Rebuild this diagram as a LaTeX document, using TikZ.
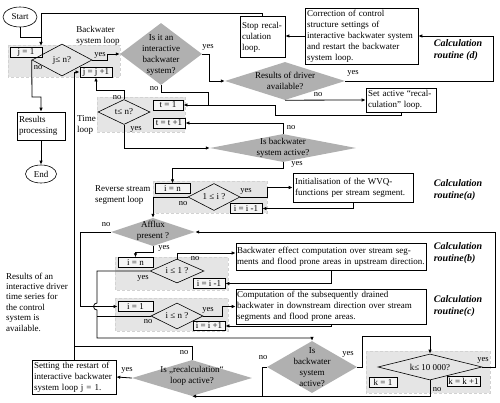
\documentclass[tikz,border=0pt]{standalone}
\usepackage{fontspec}
\setmainfont{Liberation Serif}
\usetikzlibrary{arrows.meta,shapes.geometric}

\tikzset{
  txt/.style={font=\fontsize{9}{11}\selectfont, inner sep=1pt},
  box/.style={txt, draw, line width=0.6pt, fill=white, align=left, inner sep=2pt},
  cnt/.style={txt, draw, line width=0.9pt, fill=gray!8, inner sep=0pt, minimum height=10pt},
  term/.style={txt, draw, ellipse, line width=0.6pt, fill=white, inner sep=0pt},
  test/.style={diamond, fill=gray!62, inner sep=0pt},
  looptest/.style={diamond, draw, line width=0.6pt, inner sep=0pt},
  band/.style={fill=gray!20, draw=gray!35, densely dashed, line width=0.4pt},
  lbl/.style={txt, align=left},
  yn/.style={font=\fontsize{8.5}{10}\selectfont, inner sep=0.5pt},
  calc/.style={font=\fontsize{10}{12.5}\selectfont\bfseries\itshape, align=left},
  line/.style={line width=0.8pt},
  flow/.style={line, -{Latex[length=4pt,width=3.5pt]}},
}

\begin{document}
\begin{tikzpicture}[x=1pt,y=-1pt]
\useasboundingbox (0,0) rectangle (500,403);

%loop bands
\path[band] (8,45) rectangle (120,77);
\path[band] (97,97) rectangle (185,132);
\path[band] (153,181) rectangle (267,213);
\path[band] (115,257) rectangle (228,290);
\path[band] (115,298) rectangle (228,331);
\path[band] (366,351) rectangle (490,393);

%start and end
\node[term, minimum width=34pt, minimum height=20pt] (start) at (20,17) {Start};
\node[term, minimum width=31pt, minimum height=18pt] (end) at (41,174) {End};

%backwater system loop
\node[cnt, minimum width=32pt] (jinit) at (26,52) {j = 1};
\node[looptest, minimum width=60pt, minimum height=32pt] (jdec) at (62,60) {};
\node[txt] (jdect) at (jdec) {j≤ n?};
\node[cnt, minimum width=32pt] (jinc) at (96,72) {j = j +1};
\node[lbl] (jlbl) at (98,36) {Backwater\\system loop};

%results
\node[box, text width=44pt, minimum height=28pt] (results) at (41,126) {Results\\processing};

%interactive system
\node[test, minimum width=82pt, minimum height=62pt] (dint) at (161,54) {};
\node[txt, align=center] (dintt) at (161,55) {Is it an\\interactive\\backwater\\system?};

%stop and correction
\node[box, text width=41pt, minimum height=41pt] (stop) at (262.5,37) {Stop recal-\\culation\\loop.};
\node[box, text width=109pt, minimum height=56pt] (corr) at (361.5,36) {Correction of control\\structure settings of\\interactive backwater system\\and restart the backwater\\system loop.};
\node[calc] (calcd) at (458,50) {Calculation\\routine (d)};

%driver
\node[test, minimum width=120pt, minimum height=38pt] (ddrv) at (285,81) {};
\node[txt, align=center] (ddrvt) at (ddrv) {Results of driver\\available?};
\node[box, text width=66pt, minimum height=24pt] (setrc) at (401,100) {Set active “recal-\\culation” loop.};

%time loop
\node[looptest, minimum width=52pt, minimum height=25pt] (tdec) at (124,112) {};
\node[txt] (tdect) at (tdec) {t≤ n?};
\node[cnt, minimum width=30pt] (tinit) at (168,105) {t = 1};
\node[cnt, minimum width=32pt] (tinc) at (169,123) {t = t +1};
\node[lbl, anchor=west] (tlbl) at (76,125) {Time\\loop};

%backwater active
\node[test, minimum width=146pt, minimum height=28pt] (dact1) at (283,148) {};
\node[txt, align=center] (dact1t) at (dact1) {Is backwater\\system active?};

%reverse stream segment loop
\node[cnt, minimum width=35pt, minimum height=9.5pt] (iinitr) at (172.5,188.5) {i = n};
\node[looptest, minimum width=52pt, minimum height=27pt] (idecr) at (214,197) {};
\node[txt] (idecrt) at (idecr) {1 ≤ i ?};
\node[cnt, minimum width=32pt, minimum height=9.5pt] (idecrr) at (246,208.5) {i = i -1};
\node[lbl, anchor=west] (ilbl) at (94,195) {Reverse stream\\segment loop};
\node[box, text width=116pt, minimum height=29pt] (init) at (353,187.5) {Initialisation of the WVQ-\\functions per stream segment.};
\node[calc] (calca) at (458,190) {Calculation\\routine(a)};

%afflux
\node[test, minimum width=84pt, minimum height=28pt] (dafl) at (153,232) {};
\node[txt, align=center] (daflt) at (153,231) {Afflux\\present ?};

%routine b
\node[cnt, minimum width=35pt, minimum height=9.5pt] (iinitb) at (135.5,262.5) {i = n};
\node[looptest, minimum width=54pt, minimum height=24pt] (idecb) at (177,271) {};
\node[txt] (idecbt) at (idecb) {i ≤ 1 ?};
\node[cnt, minimum width=32pt, minimum height=9.5pt] (idecbr) at (209,283.5) {i = i -1};
\node[box, text width=188pt, inner sep=1pt, minimum height=27pt] (bwe) at (331,256.5) {Backwater effect computation over stream seg-\\ments and flood prone areas in upstream direction.};
\node[calc] (calcb) at (458,253) {Calculation\\routine(b)};

%routine c
\node[cnt, minimum width=35pt, minimum height=9.5pt] (iinitc) at (135.5,306.5) {i = 1};
\node[looptest, minimum width=52pt, minimum height=26pt] (idecc) at (177,316) {};
\node[txt] (idecct) at (idecc) {i ≤ n ?};
\node[cnt, minimum width=32pt, minimum height=9.5pt] (iincc) at (209,326) {i = i +1};
\node[box, text width=188pt, inner sep=1pt, minimum height=35pt] (comp) at (331,306.5) {Computation of the subsequently drained\\backwater in downstream direction over stream\\segments and flood prone areas.};
\node[calc] (calcc) at (458,306) {Calculation\\routine(c)};

%note
\node[lbl, anchor=west, font=\fontsize{9}{10.4}\selectfont] (note) at (5,302) {Results of an\\interactive driver\\time series for\\the control\\system is\\available.};

%backwater active, k loop
\node[test, minimum width=90pt, minimum height=52pt] (dact2) at (312,367) {};
\node[txt, align=center] (dact2t) at (dact2) {Is\\backwater\\system\\active?};
\node[cnt, minimum width=28pt] (kinit) at (383,382) {k = 1};
\node[looptest, minimum width=104pt, minimum height=26pt] (kdec) at (430,367) {};
\node[txt] (kdect) at (kdec) {k≤ 10~000?};
\node[cnt, minimum width=33pt] (kinc) at (463.5,381) {k = k +1};

%recalculation
\node[test, minimum width=120pt, minimum height=36pt] (drc) at (192,378) {};
\node[txt, align=center] (drct) at (192,376) {Is „recalculation“\\loop active?};
\node[box, text width=80pt, minimum height=32pt] (setj) at (74,377) {Setting the restart of\\interactive backwater\\system loop j = 1.};

%connectors
\coordinate (jtop) at (41,46);
\draw[line] (start.south) |- (41,37);
\draw[flow] (stop.north) |- (41,13) -- (jtop);
\draw[flow] (jdec.west) -- (32,97) -| (results.north);
\draw[flow] (results.south) -- (end.north);
\draw[flow] (jdec.east) -- (107,60) -- (107,54) -- (dint.west);
\draw[flow] (tdec.north) -- (124,90) -| (jinc.south);
\draw[flow] (setj.north) |- (jinc.west);
\draw[line] (drc.north) |- (74,346);
\draw[line] (dint.south) |- (208,92) -- (208,105);
\draw[flow] (dint.east) -| (209,81) -- (ddrv.west);
\draw[flow] (ddrv.east) -| (493,36) -- (corr.east);
\draw[flow] (corr.west) -- (stop.east |- corr.west);
\draw[flow] (ddrv.south) -- (setrc.west);
\draw[flow] (setrc.south) |- (275,115) |- (tinit.east);
\draw[flow] (tdec.south) |- (dact1.west);
\draw[flow] (dact1.north) |- (tinc.east);
\draw[flow] (dact1.south) -- (283,168) -| (iinitr.north);
\draw[flow] (idecr.east) -- (267,197) |- (init.west);
\draw[flow] (init.south) |- (idecrr.east);
\draw[flow] (idecr.west) -| (dafl.north);
\draw[flow] (dafl.west) -| (80,306.5) -- (iinitc.west);
\draw[flow] (dafl.south) -- (153,252) -| (iinitb.north);
\draw[flow] (idecb.north) -- (177,253) -- (bwe.west |- 0,253);
\draw[flow] (bwe.south) |- (idecbr.east);
\draw[flow] (idecb.west) -| (97,303) arc[start angle=90, end angle=270, radius=3.5pt] -- (97,338) -| (dact2.north);
\draw[line] (idecc.west) -- (97,316);
\draw[flow] (idecc.east) -- (222,316) |- (comp.west);
\draw[flow] (comp.south) |- (iincc.east);
\draw[flow] (kdec.east) -- (495,367) |- (dafl.east);
\draw[flow] (dact2.east) -- (362,367) |- (430,336) -- (kdec.north);
\draw[flow] (kdec.south) |- (drc.south);
\draw[line] (dact2.west) -- (262,367) -- (262,396);
\draw[flow] (drc.west) -- (setj.east);

%yes and no
\node[yn] (n1) at (38,68) {no};
\node[yn] (y1) at (100,55) {yes};
\node[yn] (n2) at (154,89) {no};
\node[yn] (y2) at (208,47) {yes};
\node[yn] (y3) at (353,73) {yes};
\node[yn] (n3) at (318,95) {no};
\node[yn] (n4) at (117,98) {no};
\node[yn] (y4) at (136,129) {yes};
\node[yn] (n5) at (291,128) {no};
\node[yn] (y5) at (297,164) {yes};
\node[yn] (y6) at (246,191) {yes};
\node[yn] (n6) at (183,204) {no};
\node[yn] (n7) at (106,225) {no};
\node[yn] (y7) at (164,248) {yes};
\node[yn] (n8) at (195,259) {no};
\node[yn] (y8) at (143,278) {yes};
\node[yn] (y9) at (208,310) {yes};
\node[yn] (n9) at (148,322) {no};
\node[yn] (y10) at (127,370) {yes};
\node[yn] (n10) at (184,353) {no};
\node[yn] (n11) at (263,358) {no};
\node[yn] (y11) at (348,354) {yes};
\node[yn] (y12) at (483,360) {yes};
\node[yn] (n12) at (437,390) {no};
\end{tikzpicture}
\end{document}
